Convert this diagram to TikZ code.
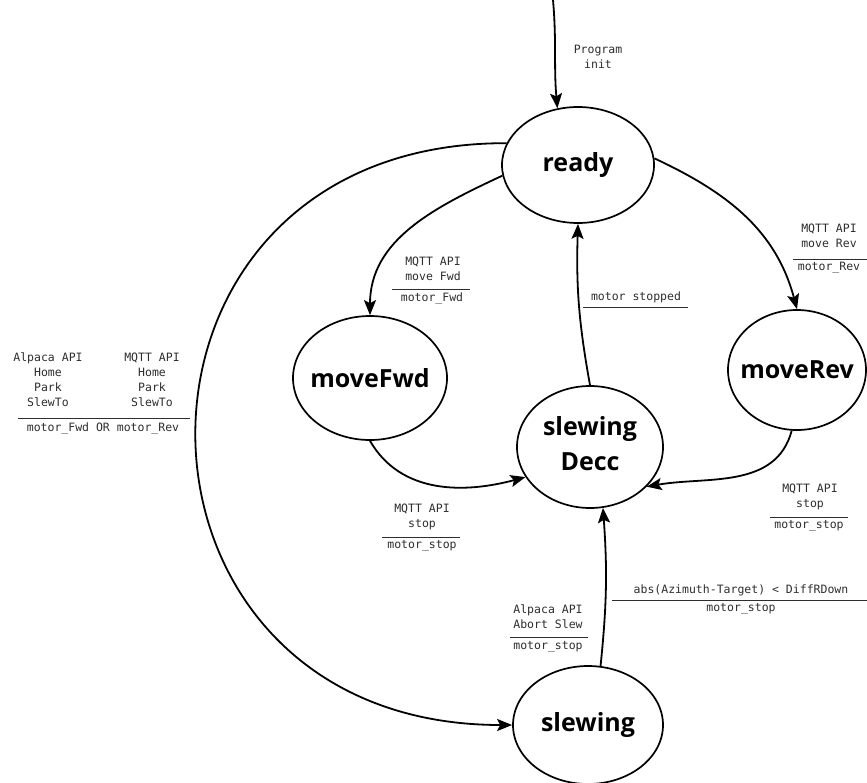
\documentclass[tikz,border=0pt]{standalone}
\usepackage{fontspec}
\setmainfont{DejaVu Sans}
\setmonofont{DejaVu Sans Mono}
\newfontfamily\stfontfam{Open Sans}
\usetikzlibrary{arrows.meta,shapes.geometric}
\definecolor{lblc}{HTML}{2E2E2E}
\newcommand\stfont{\stfontfam\bfseries\fontsize{25}{31}\selectfont}
\newcommand\lbfont{\ttfamily\fontsize{11.5}{15}\selectfont}
\begin{document}
\begin{tikzpicture}[x=1pt,y=-1pt,
  state/.style={ellipse,draw,line width=1.7pt,inner sep=0pt,font=\stfont},
  edge/.style={line width=1.8pt,-{Stealth[length=15pt,width=12pt,inset=3pt]}},
  lbl/.style={font=\lbfont,text=lblc,align=center,inner sep=0pt},
  rulel/.style={line width=1pt,draw=lblc}
]
\useasboundingbox (0,0) rectangle (867,782);
\fill[white] (0,0) rectangle (867,782);

% states
\node[state,minimum width=152,minimum height=116] (ready) at (578,165) {\makebox[0pt]{ready}};
\node[state,minimum width=154,minimum height=124] (fwd) at (370,378) {\makebox[0pt]{moveFwd}};
\node[state,minimum width=138,minimum height=120] (rev) at (797,370) {\makebox[0pt]{moveRev}};
\node[state,minimum width=146,minimum height=122] (decc) at (590,447) {\makebox[0pt]{\begin{tabular}{@{}c@{}}slewing\\[4pt]Decc\end{tabular}}};
\node[state,minimum width=150,minimum height=118] (slew) at (588,725) {\makebox[0pt]{slewing}};

% connectors
\coordinate (start) at (553,0);
\draw[edge] (start) to[out=-85,in=95] (ready.110);
\draw[edge] (ready.188) to[out=205,in=90] (fwd.north);
\draw[edge] (ready.5) to[out=-25,in=105] (rev.north);
\draw[edge] (fwd.south) to[out=-60,in=195] (decc.205);
\draw[edge] (rev.265) to[out=-105,in=10] (decc.325);
\draw[edge] (decc.north) to[bend left=6] (ready.south);
\draw[edge] (slew.78) to[bend right=5] (decc.282);
\draw[edge] (ready.163) .. controls (90,142) and (95,725) .. (slew.west);

% labels
\node[lbl] (linit) at (598,57) {Program\\init};

\node[lbl] (lfwd) at (433,269) {MQTT API\\move Fwd};
\draw[rulel] (392,289) -- (470,289);
\node[lbl] (lfwda) at (432,298) {motor\_Fwd};

\node[lbl] (lrev) at (829,236) {MQTT API\\move Rev};
\draw[rulel] (793,259) -- (867,259);
\node[lbl] (lreva) at (829,268) {motor\_Rev};

\node[lbl] (lstopped) at (636,297) {motor stopped};
\draw[rulel] (583,307) -- (688,307);

\node[lbl] (lfs) at (422,517) {MQTT API\\stop};
\draw[rulel] (382,537) -- (460,537);
\node[lbl] (lfsa) at (422,546) {motor\_stop};

\node[lbl] (lrs) at (810,497) {MQTT API\\stop};
\draw[rulel] (770,517) -- (848,517);
\node[lbl] (lrsa) at (809,526) {motor\_stop};

\node[lbl] (lab) at (548,617) {Alpaca API\\Abort Slew};
\draw[rulel] (510,637) -- (588,637);
\node[lbl] (laba) at (548,647) {motor\_stop};

\node[lbl] (labs) at (741,590) {abs(Azimuth-Target) < DiffRDown};
\draw[rulel] (612,600) -- (867,600);
\node[lbl] (labsa) at (741,609) {motor\_stop};

\node[lbl] (lla) at (48,380) {Alpaca API\\Home\\Park\\SlewTo};
\node[lbl] (llm) at (152,380) {MQTT API\\Home\\Park\\SlewTo};
\draw[rulel] (18,418) -- (190,418);
\node[lbl] (llac) at (103,428) {motor\_Fwd OR motor\_Rev};
\end{tikzpicture}
\end{document}
